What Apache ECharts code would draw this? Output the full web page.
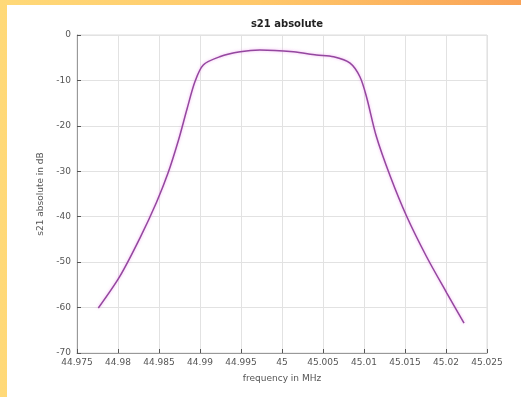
<!DOCTYPE html>
<html>
<head>
<meta charset="utf-8">
<script src="https://cdn.jsdelivr.net/npm/echarts@6/dist/echarts.min.js"></script>
<style>
html,body{margin:0;padding:0;width:521px;height:397px;overflow:hidden;}
body{background:linear-gradient(90deg,#FFD978 0%,#FFC86A 50%,#F9A256 100%);}
#frame{position:absolute;left:7px;top:5px;width:514px;height:392px;background:#fff;}
#chart{position:absolute;left:0;top:0;width:521px;height:397px;}
</style>
</head>
<body>
<div id="frame"></div>
<div id="chart"></div>
<script>
const titleText = "s21 absolute";
const xName = "frequency in MHz";
const yName = "s21 absolute in dB";
const freq = [44.9776, 44.9802, 44.9827, 44.9847, 44.9861, 44.9874, 44.9884, 44.9894, 44.9904, 44.9924, 44.9949, 44.9973, 45.0014, 45.0042, 45.0063, 45.0083, 45.0095, 45.0103, 45.0115, 45.0132, 45.0152, 45.0176, 45.0201, 45.0222];
const s21 = [-60.1, -53.2, -44.6, -36.8, -30.4, -23.0, -16.4, -10.2, -6.6, -4.8, -3.7, -3.3, -3.7, -4.4, -4.8, -6.2, -9.2, -13.6, -22.3, -31.1, -39.9, -48.7, -56.8, -63.4];
const xTicks = [44.975, 45.025, 0.005];
const yTicks = [-70, 0, 10];

const chart = echarts.init(document.getElementById('chart'), null, {renderer:'canvas'});
const lbl = {color:'#555', fontSize:9, fontFamily:'DejaVu Sans'};
chart.setOption({
  backgroundColor:'transparent',
  animation:false,
  title:{text:titleText,left:282,top:14,textAlign:'center',textStyle:{fontSize:10,fontWeight:'bold',color:'#222',fontFamily:'DejaVu Sans'}},
  grid:{left:77,right:34,top:35,bottom:44,show:true,borderColor:'#dddddd',borderWidth:1,backgroundColor:'transparent'},
  xAxis:{type:'value',min:xTicks[0],max:xTicks[1],interval:xTicks[2],
    name:xName,nameLocation:'middle',nameGap:21,nameTextStyle:{color:'#555',fontSize:9,fontFamily:'DejaVu Sans'},
    axisLine:{show:true,onZero:false,lineStyle:{color:'#999'}},
    axisTick:{inside:true,length:4,lineStyle:{color:'#555'}},
    axisLabel:Object.assign({margin:5,formatter:v=>String(parseFloat(v.toFixed(3)))},lbl),
    splitLine:{show:true,lineStyle:{color:'#e2e2e2'}}},
  yAxis:{type:'value',min:yTicks[0],max:yTicks[1],interval:yTicks[2],
    name:yName,nameLocation:'middle',nameGap:27,nameTextStyle:{color:'#555',fontSize:9,fontFamily:'DejaVu Sans'},
    axisLine:{show:true,onZero:false,lineStyle:{color:'#999'}},
    axisTick:{inside:true,length:4,lineStyle:{color:'#555'}},
    axisLabel:Object.assign({margin:6},lbl),
    splitLine:{show:true,lineStyle:{color:'#e2e2e2'}}},
  series:[{type:'line',data:freq.map((f,i)=>[f,s21[i]]),smooth:0.3,showSymbol:false,
    lineStyle:{color:'#94479F',width:1.5,shadowColor:'rgba(235,140,235,0.7)',shadowBlur:3}}]
});
</script>
</body>
</html>
